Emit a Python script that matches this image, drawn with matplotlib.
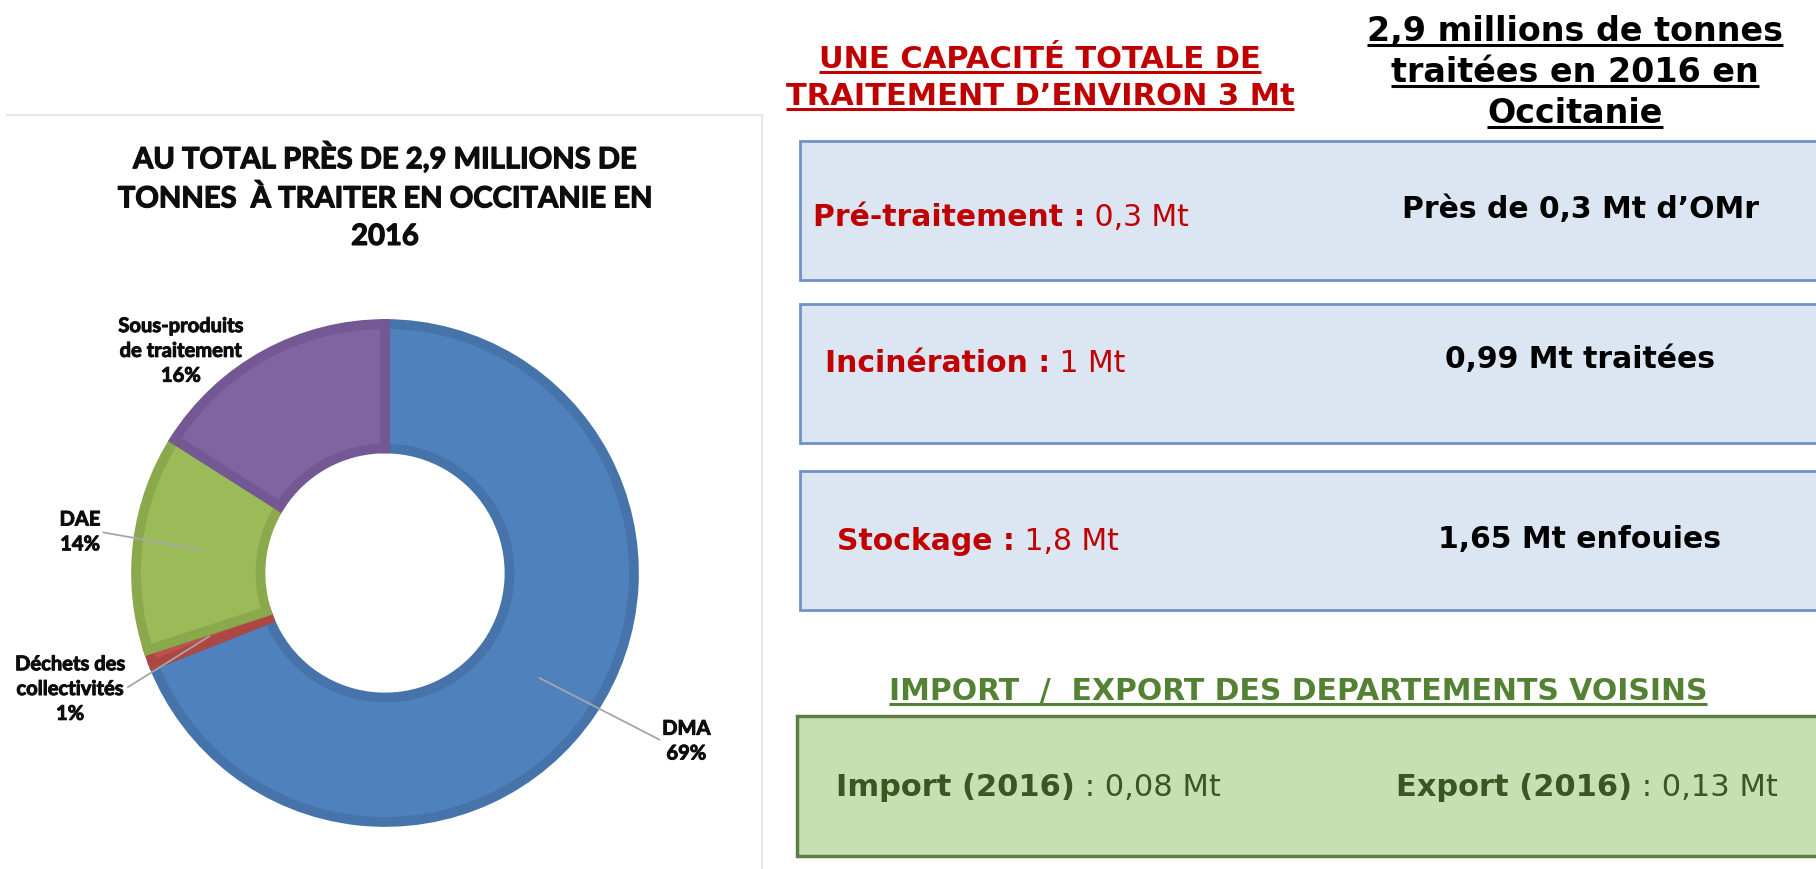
import numpy as np
import matplotlib
matplotlib.use("Agg")
from matplotlib import pyplot as plt
from matplotlib import patheffects as pe
from matplotlib.patches import Rectangle

# Waste to treat in Occitanie in 2016 (share of the 2,9 Mt)
categories = ["DMA", "Déchets des\ncollectivités", "DAE", "Sous-produits\nde traitement"]
shares = [69, 1, 14, 16]
fills = ["#4F81BD", "#C0504D", "#9BBB59", "#8064A2"]
edges = ["#4573AA", "#AC4744", "#8AA94C", "#735893"]

# Treatment capacity vs tonnage actually treated
capacity_names = ["Pré-traitement :", "Incinération :", "Stockage :"]
capacity_values = ["0,3 Mt", "1 Mt", "1,8 Mt"]
treated = ["Près de 0,3 Mt d’OMr", "0,99 Mt traitées", "1,65 Mt enfouies"]

# Exchanges with neighbouring departments
flow_names = ["Import (2016)", "Export (2016)"]
flow_values = ["0,08 Mt", "0,13 Mt"]

W, H = 1816, 869
fig = plt.figure(figsize=(W / 100, H / 100), dpi=100)
bg = fig.add_axes([0, 0, 1, 1])
bg.set_xlim(0, W)
bg.set_ylim(H, 0)
bg.axis("off")

LEFT_FONT = "Lato"
RIGHT_FONT = "DejaVu Sans"
INK = "#0D0D0D"

# ---- left panel: donut chart ----
bg.plot([7, 762], [115, 115], color="#E3E3E3", lw=1.2)
bg.plot([762, 762], [115, H], color="#E3E3E3", lw=1.2)

# a thin stroke thickens the Lato glyphs
bg.text(385, 196, "AU TOTAL PRÈS DE 2,9 MILLIONS DE\nTONNES  À TRAITER EN OCCITANIE EN\n2016",
        ha="center", va="center", fontsize=21, fontweight="bold",
        family=LEFT_FONT, linespacing=1.55, color=INK,
        path_effects=[pe.withStroke(linewidth=0.9, foreground=INK)])

cx, cy, R, half = 385, 573, 249, 300
pie_ax = fig.add_axes([(cx - half) / W, (H - cy - half) / H, 2 * half / W, 2 * half / H])
wedges, _ = pie_ax.pie(shares, colors=fills, startangle=90, counterclock=False,
                       radius=1, wedgeprops=dict(width=0.5))
for w, ec in zip(wedges, edges):
    w.set_edgecolor(ec)
    w.set_linewidth(7)
    w.set_clip_path(w)  # keep only the inner half of the border
pie_ax.set_xlim(-half / R, half / R)
pie_ax.set_ylim(-half / R, half / R)

label_pos = [(1.21, -0.675), (-1.265, -0.466), (-1.225, 0.165), (-0.82, 0.892)]
leaders = [True, True, True, False]
relpos = [(0, 0.5), (1, 0.5), (1, 0.5), (0.5, 0.5)]
for name, val, pos, lead, rp, w in zip(categories, shares, label_pos, leaders, relpos, wedges):
    mid = np.deg2rad((w.theta1 + w.theta2) / 2)
    txt = f"{name}\n{val}%"
    style = dict(ha="center", va="center", fontsize=14.5, fontweight="bold",
                 family=LEFT_FONT, linespacing=1.3, color=INK,
                 path_effects=[pe.withStroke(linewidth=0.7, foreground=INK)])
    if lead:
        pie_ax.annotate(txt, xy=(0.75 * np.cos(mid), 0.75 * np.sin(mid)), xytext=pos,
                        arrowprops=dict(arrowstyle="-", color="#A6A6A6", lw=1.3,
                                        relpos=rp, shrinkA=0, shrinkB=0),
                        **style)
    else:
        pie_ax.text(pos[0], pos[1], txt, **style)

# ---- right panel: capacity boxes ----
underlined = []


def header(x, y, s, color, size):
    t = bg.text(x, y, s, ha="center", va="baseline", fontsize=size,
                fontweight="bold", family=RIGHT_FONT, color=color)
    underlined.append((t, y, color))


header(1040, 68, "UNE CAPACITÉ TOTALE DE", "#C00000", 22)
header(1040, 105, "TRAITEMENT D’ENVIRON 3 Mt", "#C00000", 22)
for s, y in zip(["2,9 millions de tonnes", "traitées en 2016 en", "Occitanie"], [41, 82, 123]):
    header(1575, y, s, "black", 24)


def two_part(x, y, bold, plain, color, size=21.5):
    t = bg.text(x, y, bold, va="baseline", fontsize=size, fontweight="bold",
                family=RIGHT_FONT, color=color)
    bg.annotate(" " + plain, xy=(1, 0), xycoords=t, va="bottom", fontsize=size,
                family=RIGHT_FONT, color=color)


box_tops = [141, 304, 471]
name_x = [813, 825, 837]
base_y = [226, 372, 550]
treated_y = [218, 368, 548]
for top, nx, by, ty, nm, cv, tr in zip(box_tops, name_x, base_y, treated_y,
                                        capacity_names, capacity_values, treated):
    bg.add_patch(Rectangle((800, top), 1100, 139, facecolor="#DCE6F2",
                           edgecolor="#7192C4", lw=2))
    two_part(nx, by, nm, cv, "#C00000")
    bg.text(1580, ty, tr, ha="center", va="baseline", fontsize=21.5,
            fontweight="bold", family=RIGHT_FONT, color="black")

header(1298, 700, "IMPORT  /  EXPORT DES DEPARTEMENTS VOISINS", "#548235", 21.5)
bg.add_patch(Rectangle((797, 716), 1100, 140, facecolor="#C6E0B4",
                       edgecolor="#5E7C44", lw=2.5))
for x, nm, v in zip([836, 1396], flow_names, flow_values):
    two_part(x, 796, nm, ": " + v, "#385723", size=22)

# underlines need the rendered text extents
fig.canvas.draw()
inv = bg.transData.inverted()
for t, y, color in underlined:
    bb = t.get_window_extent()
    (x0, _), (x1, _) = inv.transform([[bb.x0, bb.y0], [bb.x1, bb.y1]])
    bg.plot([x0, x1], [y + 4, y + 4], color=color, lw=2.2, solid_capstyle="butt")

fig.savefig("out.png", dpi=100)
